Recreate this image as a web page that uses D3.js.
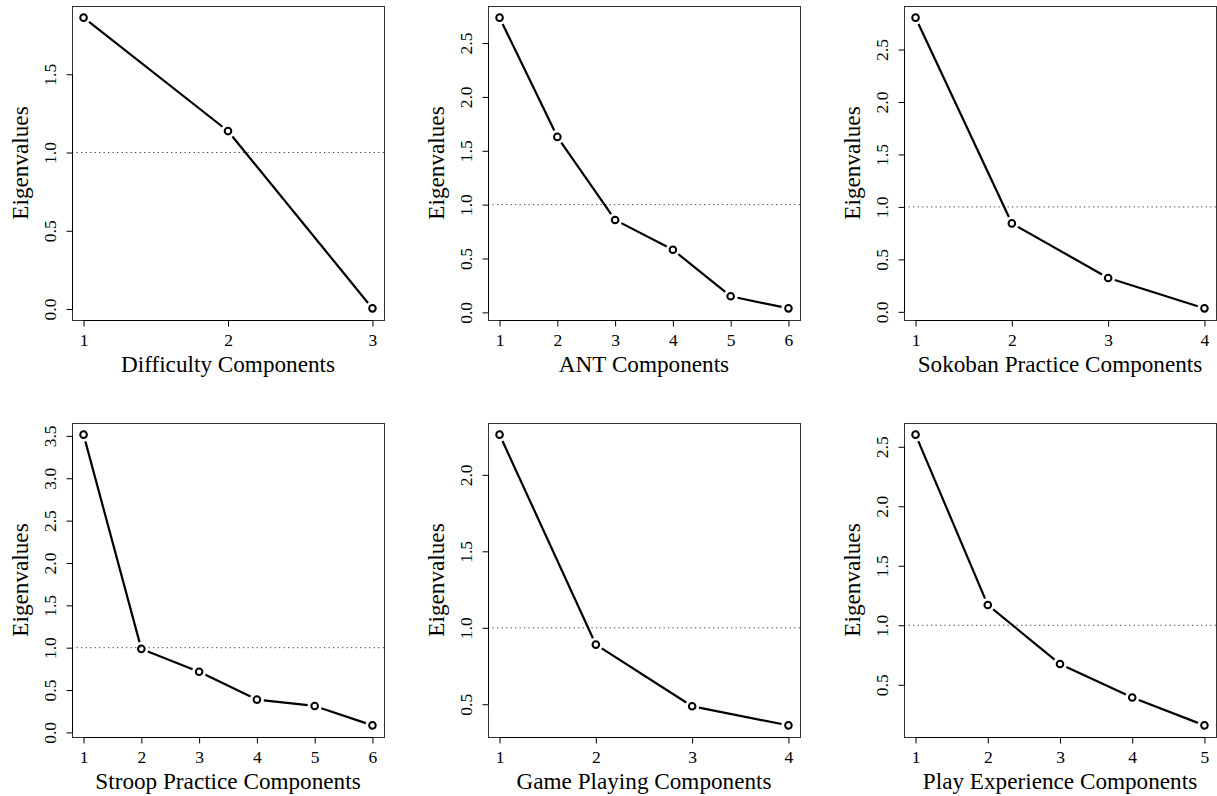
<!DOCTYPE html>
<html lang="en">
<head>
<meta charset="utf-8">
<title>Scree plots</title>
<script src="https://d3js.org/d3.v7.min.js"></script>
<style>
  body { margin: 0; background: #fff; }
  svg text { font-family: "Liberation Serif", "Times New Roman", serif; fill: #000; }
</style>
</head>
<body>
<div id="chart"></div>
<script>
// eigenvalues
var difficulty = [1.862, 1.137, 0.004];
var ant = [2.736, 1.629, 0.858, 0.581, 0.149, 0.037];
var sokoban = [2.804, 0.843, 0.323, 0.033];
var stroop = [3.515, 0.986, 0.716, 0.387, 0.312, 0.083];
var gamePlaying = [2.263, 0.890, 0.487, 0.362];
var playExperience = [2.602, 1.170, 0.675, 0.393, 0.159];

var titles = ["Difficulty Components", "ANT Components", "Sokoban Practice Components",
              "Stroop Practice Components", "Game Playing Components", "Play Experience Components"];

// y tick labels for each panel
var yTicks = [
  [0, 0.5, 1.0, 1.5],
  [0, 0.5, 1.0, 1.5, 2.0, 2.5],
  [0, 0.5, 1.0, 1.5, 2.0, 2.5],
  [0, 0.5, 1.0, 1.5, 2.0, 2.5, 3.0, 3.5],
  [0.5, 1.0, 1.5, 2.0],
  [0.5, 1.0, 1.5, 2.0, 2.5]
];

var series = [difficulty, ant, sokoban, stroop, gamePlaying, playExperience];
var cutoff = 1.0;

var width = 1217, height = 796;
var colLeft = [72, 488, 904];
var rowTop = [6, 423];
var boxW = 312, boxH = 314;
var gap = 7; // type="b" leaves a gap round each point

var svg = d3.select("#chart").append("svg")
  .attr("width", width)
  .attr("height", height);

// R style range: extend by 4% each side
function rDomain(ext) {
  var r = ext[1] - ext[0];
  return [ext[0] - 0.04 * r, ext[1] + 0.04 * r];
}

series.forEach(function(vals, i) {
  var left = colLeft[i % 3], top = rowTop[Math.floor(i / 3)];
  var n = vals.length;
  var comps = d3.range(1, n + 1);

  var x = d3.scaleLinear().domain(rDomain([1, n])).range([left, left + boxW]);
  var y = d3.scaleLinear().domain(rDomain(d3.extent(vals))).range([top + boxH, top]);

  var g = svg.append("g");

  // dotted reference line at eigenvalue 1
  g.append("line")
    .attr("x1", left).attr("x2", left + boxW)
    .attr("y1", y(cutoff)).attr("y2", y(cutoff))
    .attr("stroke", "#444")
    .attr("stroke-width", 1)
    .attr("stroke-dasharray", "1.3,3.2");

  // segments, shortened at both ends
  var pts = vals.map(function(v, k) { return [x(comps[k]), y(v)]; });
  for (var k = 0; k < n - 1; k++) {
    var p = pts[k], q = pts[k + 1];
    var dx = q[0] - p[0], dy = q[1] - p[1];
    var len = Math.sqrt(dx * dx + dy * dy);
    var ux = dx / len, uy = dy / len;
    g.append("line")
      .attr("x1", p[0] + ux * gap).attr("y1", p[1] + uy * gap)
      .attr("x2", q[0] - ux * gap).attr("y2", q[1] - uy * gap)
      .attr("stroke", "#000")
      .attr("stroke-width", 2.2);
  }

  g.selectAll("circle")
    .data(vals)
    .enter()
    .append("circle")
    .attr("cx", function(d, k) { return x(comps[k]); })
    .attr("cy", function(d) { return y(d); })
    .attr("r", 3.3)
    .attr("fill", "none")
    .attr("stroke", "#000")
    .attr("stroke-width", 2);

  // box
  g.append("rect")
    .attr("x", left + 0.5).attr("y", top + 0.5)
    .attr("width", boxW).attr("height", boxH)
    .attr("fill", "none")
    .attr("stroke", "#333")
    .attr("stroke-width", 1);

  // x axis
  var xAxis = g.append("g")
    .attr("transform", "translate(0," + (top + boxH + 0.5) + ")")
    .call(d3.axisBottom(x).tickValues(comps).tickSize(6).tickSizeOuter(0).tickFormat(d3.format("d")));
  xAxis.select(".domain").remove();
  xAxis.append("line")
    .attr("x1", x(1)).attr("x2", x(n))
    .attr("stroke", "#000");
  xAxis.selectAll(".tick line").attr("stroke", "#000");
  xAxis.selectAll("text")
    .attr("y", 25).attr("dy", 0)
    .style("font-size", "17.5px")
    .style("font-family", "Liberation Serif, serif");

  // y axis, labels parallel to the axis
  var yt = yTicks[i];
  var yAxis = g.append("g")
    .attr("transform", "translate(" + (left + 0.5) + ",0)")
    .call(d3.axisLeft(y).tickValues(yt).tickSize(6).tickSizeOuter(0).tickFormat(d3.format(".1f")));
  yAxis.select(".domain").remove();
  yAxis.append("line")
    .attr("y1", y(yt[0])).attr("y2", y(yt[yt.length - 1]))
    .attr("stroke", "#000");
  yAxis.selectAll(".tick line").attr("stroke", "#000");
  yAxis.selectAll("text")
    .attr("x", 0).attr("dy", 0)
    .attr("text-anchor", "middle")
    .attr("transform", "translate(-17,0) rotate(-90)")
    .style("font-size", "17.5px")
    .style("font-family", "Liberation Serif, serif");

  // axis titles
  g.append("text")
    .attr("x", left + boxW / 2)
    .attr("y", top + boxH + 52)
    .attr("text-anchor", "middle")
    .style("font-size", "23.2px")
    .text(titles[i]);

  g.append("text")
    .attr("transform", "translate(" + (left - 44) + "," + (top + boxH / 2) + ") rotate(-90)")
    .attr("text-anchor", "middle")
    .style("font-size", "23.2px")
    .text("Eigenvalues");
});
</script>
</body>
</html>
